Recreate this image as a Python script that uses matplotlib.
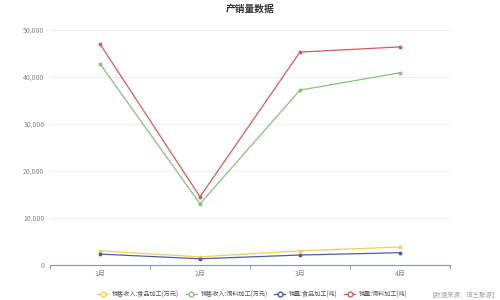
import matplotlib
matplotlib.use("Agg")
import matplotlib.pyplot as plt
from matplotlib.lines import Line2D

plt.rcParams['font.family'] = ['Noto Sans CJK SC', 'DejaVu Sans']

months = ["1月", "2月", "3月", "4月"]
rev_food = [3000, 1700, 3000, 3800]      # 销售收入:食品加工(万元)
rev_feed = [42800, 13000, 37200, 40900]  # 销售收入:饲料加工(万元)
vol_food = [2300, 1300, 2100, 2600]      # 销量:食品加工(吨)
vol_feed = [47000, 14500, 45300, 46400]  # 销量:饲料加工(吨)
yticks = [0, 10000, 20000, 30000, 40000, 50000]

series = [
    ("销售收入:食品加工(万元)", rev_food, "#f2cf5b"),
    ("销售收入:饲料加工(万元)", rev_feed, "#86c17a"),
    ("销量:食品加工(吨)", vol_food, "#4a5ea8"),
    ("销量:饲料加工(吨)", vol_feed, "#d65a61"),
]

fig = plt.figure(figsize=(5, 3), dpi=100)
ax = fig.add_axes([0.1, 0.117, 0.8, 0.783])

x = range(len(months))
for name, vals, c in series:
    ax.plot(x, vals, color=c, lw=0.9, marker="o", ms=1.8, mfc=c, mec=c)

ax.set_xlim(-0.5, len(months) - 0.5)
ax.set_ylim(0, 50000)
ax.set_yticks(yticks)
ax.set_yticklabels([f"{v:,}" for v in yticks], fontsize=5, color="#888888")
ax.set_xticks(list(x))
ax.set_xticklabels(months, fontsize=5, color="#888888")
ax.tick_params(axis="y", length=0, pad=4)
ax.tick_params(axis="x", length=0, pad=4)
# category boundary ticks
for b in [i - 0.5 for i in range(len(months) + 1)]:
    ax.plot([b, b], [0, -700], color="#8d93a8", lw=0.7, clip_on=False)

for v in yticks[1:]:
    ax.axhline(v, color="#eeeeee", lw=0.7, zorder=0)
for s in ["top", "right", "left"]:
    ax.spines[s].set_visible(False)
ax.spines["bottom"].set_color("#8d93a8")
ax.spines["bottom"].set_linewidth(0.8)

fig.text(0.5, 0.972, "产销量数据", ha="center", va="center", fontsize=7, fontweight="bold", color="#333333")

handles = [Line2D([0], [0], color=c, lw=0.9, marker="o", ms=3.5, mfc="white", mec=c)
           for _, _, c in series]
fig.legend(handles, [n for n, _, _ in series], loc="center", bbox_to_anchor=(0.505, 0.018),
           ncol=4, frameon=False, fontsize=4.4, handlelength=1.8, handletextpad=0.6,
           columnspacing=1.1, labelcolor="#555555")

fig.text(0.998, 0.018, "【数据来源：恒生聚源】", ha="right", va="center", fontsize=4.6, color="#aaaaaa")

fig.savefig("out.png", dpi=100, facecolor="white")
